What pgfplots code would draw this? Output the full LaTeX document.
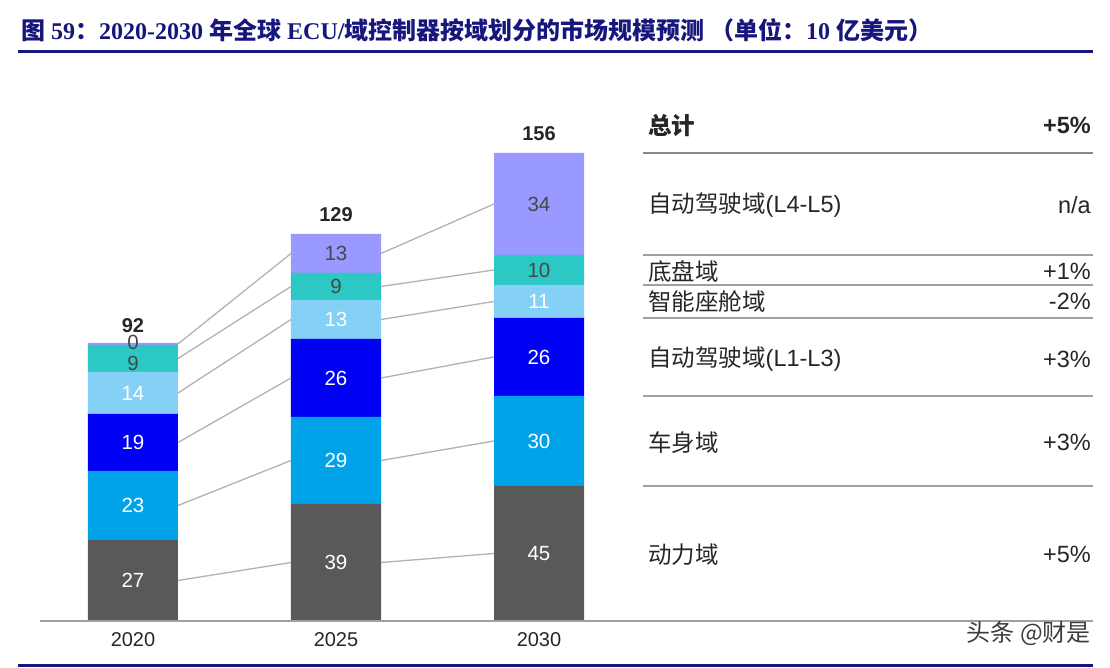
\documentclass[border=0pt]{standalone}
\usepackage{fontspec}
\setmainfont{Liberation Sans}
\newfontfamily\serif{Liberation Serif}
\newfontfamily\cjk{Noto Sans CJK SC}
\usepackage{pgfplots}
\pgfplotsset{compat=1.18}

\definecolor{navy}{RGB}{22,22,125}
\definecolor{cPow}{RGB}{89,89,89}
\definecolor{cBody}{RGB}{0,163,232}
\definecolor{cL13}{RGB}{0,0,245}
\definecolor{cCab}{RGB}{132,208,247}
\definecolor{cCha}{RGB}{44,200,196}
\definecolor{cL45}{RGB}{153,153,255}
\definecolor{txt}{RGB}{38,38,38}
\definecolor{lnk}{RGB}{178,178,178}
\definecolor{rule}{RGB}{160,160,160}

\pgfplotsset{
  frame/.style={
    at={(40pt,47pt)}, anchor=south west,
    x=203pt, y=3pt,
    xmin=-0.4581, xmax=4.7291, ymin=0, ymax=190,
    clip=false,
  },
  barlab/.style={only marks, mark size=0pt, mark options={draw=none,fill=none},
    nodes near coords, point meta=explicit symbolic,
    every node near coord/.append style={anchor=center, font=\fontsize{20.5}{22}\selectfont}},
}

\begin{document}
\begin{tikzpicture}
\useasboundingbox (0,0) rectangle (1110pt,668pt);

% title and rules
\node[anchor=west, text=navy, font=\fontsize{24}{26}\selectfont\bfseries\serif, inner sep=0pt]
  at (21pt,638pt) {{\cjk 图} 59{\cjk ：}2020-2030 {\cjk 年全球} ECU/{\cjk 域控制器按域划分的市场规模预测 （单位：}10 {\cjk 亿美元）}};
\draw[navy, line width=3pt] (18pt,616pt) -- (1093pt,616pt);
\draw[navy, line width=3pt] (18pt,2pt) -- (1093pt,2pt);

% stacked bars
\begin{axis}[frame, axis lines=none, ybar stacked, bar width=90pt]
\addplot[fill=cPow, draw=none] coordinates {(0,27) (1,39) (2,45)};
\addplot[fill=cBody, draw=none] coordinates {(0,23) (1,29) (2,30)};
\addplot[fill=cL13, draw=none] coordinates {(0,19) (1,26) (2,26)};
\addplot[fill=cCab, draw=none] coordinates {(0,14) (1,13) (2,11)};
\addplot[fill=cCha, draw=none] coordinates {(0,9) (1,9) (2,10)};
\addplot[fill=cL45, draw=none] coordinates {(0,0.7) (1,13) (2,34)};
\end{axis}

% links, labels, table
\begin{axis}[frame,
  axis x line=bottom, axis y line=none,
  x axis line style={-, rule, line width=1.5pt},
  xtick={0,1,2}, xticklabels={2020,2025,2030},
  major tick length=0pt,
  xticklabel style={anchor=center, yshift=-19pt, text=txt, font=\fontsize{20}{22}\selectfont},
]
% connector lines between segment midpoints
\addplot[lnk, line width=1.3pt] coordinates {(0.2217,13.5) (0.7783,19.5)};
\addplot[lnk, line width=1.3pt] coordinates {(0.2217,38.5) (0.7783,53.5)};
\addplot[lnk, line width=1.3pt] coordinates {(0.2217,59.5) (0.7783,81)};
\addplot[lnk, line width=1.3pt] coordinates {(0.2217,76) (0.7783,100.5)};
\addplot[lnk, line width=1.3pt] coordinates {(0.2217,87.5) (0.7783,111.5)};
\addplot[lnk, line width=1.3pt] coordinates {(0.2217,92.35) (0.7783,122.5)};
\addplot[lnk, line width=1.3pt] coordinates {(1.2217,19.5) (1.7783,22.5)};
\addplot[lnk, line width=1.3pt] coordinates {(1.2217,53.5) (1.7783,60)};
\addplot[lnk, line width=1.3pt] coordinates {(1.2217,81) (1.7783,88)};
\addplot[lnk, line width=1.3pt] coordinates {(1.2217,100.5) (1.7783,106.5)};
\addplot[lnk, line width=1.3pt] coordinates {(1.2217,111.5) (1.7783,117)};
\addplot[lnk, line width=1.3pt] coordinates {(1.2217,122.5) (1.7783,139)};

% segment labels
\addplot[barlab, every node near coord/.append style={text=white}] coordinates {
  (0,13.5) [27] (0,38.5) [23] (0,59.5) [19] (0,76) [14]
  (1,19.5) [39] (1,53.5) [29] (1,81) [26] (1,100.5) [13]
  (2,22.5) [45] (2,60) [30] (2,88) [26] (2,106.5) [11]
};
\addplot[barlab, every node near coord/.append style={text=txt!85}] coordinates {
  (0,86) [9] (0,92.7) [0]
  (1,111.5) [9] (1,122.5) [13]
  (2,117) [10] (2,139) [34]
};
% totals
\addplot[barlab, every node near coord/.append style={text=txt, font=\fontsize{20}{22}\selectfont\bfseries}] coordinates {
  (0,98.5) [92] (1,135.5) [129] (2,162.5) [156]
};

% table rules at the 2030 segment borders
\addplot[rule!85!black, line width=2.5pt] coordinates {(2.512,156) (4.729,156)};
\addplot[rule, line width=1.8pt] coordinates {(2.512,122) (4.729,122)};
\addplot[rule, line width=1.8pt] coordinates {(2.512,112) (4.729,112)};
\addplot[rule, line width=1.8pt] coordinates {(2.512,101) (4.729,101)};
\addplot[rule, line width=1.8pt] coordinates {(2.512,75) (4.729,75)};
\addplot[rule, line width=1.8pt] coordinates {(2.512,45) (4.729,45)};

\begin{scope}[every node/.style={inner sep=0pt, text=txt, font=\fontsize{23.5}{26}\selectfont}]
\node[anchor=west, font=\fontsize{23.5}{26}\selectfont\bfseries] at (axis cs:2.537,165.3) {\cjk 总计};
\node[anchor=east, font=\fontsize{23.5}{26}\selectfont\bfseries] at (axis cs:4.719,165.3) {+5\%};
\node[anchor=west] at (axis cs:2.537,138.5) {{\cjk 自动驾驶域}(L4-L5)};
\node[anchor=east] at (axis cs:4.719,138.5) {n/a};
\node[anchor=west] at (axis cs:2.537,116.6) {\cjk 底盘域};
\node[anchor=east] at (axis cs:4.719,116.6) {+1\%};
\node[anchor=west] at (axis cs:2.537,106.5) {\cjk 智能座舱域};
\node[anchor=east] at (axis cs:4.719,106.5) {-2\%};
\node[anchor=west] at (axis cs:2.537,87.3) {{\cjk 自动驾驶域}(L1-L3)};
\node[anchor=east] at (axis cs:4.719,87.3) {+3\%};
\node[anchor=west] at (axis cs:2.537,59.5) {\cjk 车身域};
\node[anchor=east] at (axis cs:4.719,59.5) {+3\%};
\node[anchor=west] at (axis cs:2.537,22.2) {\cjk 动力域};
\node[anchor=east] at (axis cs:4.719,22.2) {+5\%};
\end{scope}
\end{axis}

% watermark
\node[anchor=east, inner sep=0pt, text=txt!90, font=\fontsize{24}{26}\selectfont\cjk] at (1091pt,35pt) {头条 @财是};
\end{tikzpicture}
\end{document}
